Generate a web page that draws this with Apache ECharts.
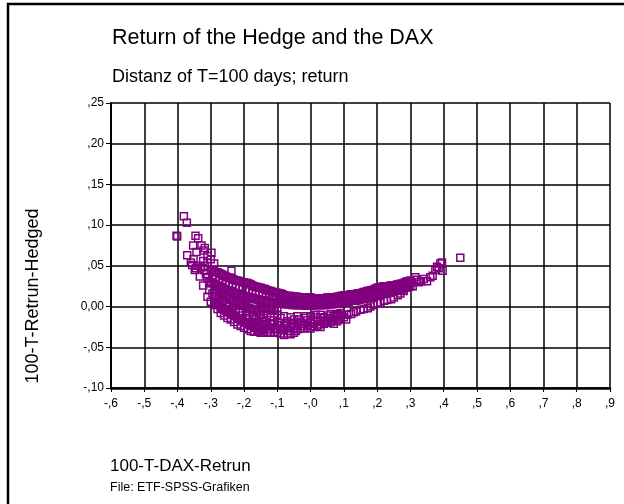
<!DOCTYPE html>
<html>
<head>
<meta charset="utf-8">
<script src="https://cdn.jsdelivr.net/npm/echarts@6/dist/echarts.min.js"></script>
<style>
html,body{margin:0;padding:0;background:#fff;}
#chart{width:624px;height:504px;}
</style>
</head>
<body>
<div id="chart"></div>
<script>
// ---- data ----
const xTickLabels = ['-,6','-,5','-,4','-,3','-,2','-,1','-,0',',1',',2',',3',',4',',5',',6',',7',',8',',9'];
const yTickLabels = ['-,10','-,05','0,00',',05',',10',',15',',20',',25'];

// isolated points upper left
const leftCluster = [
  [-0.381,0.111],[-0.372,0.103],[-0.403,0.087],[-0.401,0.086],[-0.346,0.087],[-0.338,0.084],
  [-0.353,0.075],[-0.328,0.075],[-0.318,0.072],[-0.322,0.069],[-0.343,0.067],[-0.371,0.063],
  [-0.298,0.066],[-0.360,0.054],[-0.323,0.056],[-0.310,0.054],[-0.348,0.045],[-0.333,0.037],
  [-0.323,0.026],[-0.340,0.050],[-0.330,0.048],[-0.320,0.045],[-0.315,0.040],[-0.310,0.035],
  [-0.305,0.030],[-0.300,0.058],[-0.310,0.062],[-0.290,0.053],[-0.352,0.058],[-0.356,0.051],
  [-0.345,0.047],[-0.318,0.050],[-0.238,0.044]
];
// upper dense band: top edge
const bandTop = [
  [-0.30,0.045],[-0.29,0.043],[-0.28,0.042],[-0.27,0.040],[-0.26,0.038],[-0.25,0.036],[-0.24,0.035],
  [-0.23,0.033],[-0.22,0.032],[-0.21,0.031],[-0.20,0.030],[-0.19,0.029],[-0.18,0.027],[-0.17,0.025],
  [-0.16,0.024],[-0.15,0.023],[-0.14,0.022],[-0.13,0.020],[-0.12,0.019],[-0.11,0.018],[-0.10,0.017],
  [-0.09,0.016],[-0.08,0.014],[-0.07,0.013],[-0.06,0.013],[-0.05,0.012],[-0.04,0.012],[-0.03,0.011],
  [-0.02,0.011],[-0.01,0.011],[0.00,0.011],[0.01,0.010],[0.02,0.010],[0.03,0.010],[0.04,0.010],
  [0.05,0.011],[0.06,0.011],[0.07,0.011],[0.08,0.012],[0.09,0.013],[0.10,0.014],[0.11,0.014],
  [0.12,0.015],[0.13,0.015],[0.14,0.016],[0.15,0.016],[0.16,0.018],[0.17,0.019],[0.18,0.020],
  [0.19,0.021],[0.20,0.023],[0.21,0.024],[0.22,0.025],[0.23,0.025],[0.24,0.026],[0.25,0.026],
  [0.26,0.027],[0.27,0.028],[0.28,0.029],[0.29,0.031],[0.30,0.032]
];
const bandTop2 = [
  [-0.295,0.044],[-0.285,0.042],[-0.275,0.041],[-0.265,0.039],[-0.255,0.037],[-0.245,0.035],
  [-0.235,0.034],[-0.225,0.032],[-0.215,0.031],[-0.205,0.030],[-0.195,0.029],[-0.185,0.028],
  [-0.175,0.026],[-0.165,0.024],[-0.155,0.023],[-0.145,0.022],[-0.135,0.021],[-0.125,0.019],
  [-0.115,0.018],[-0.105,0.017],[-0.095,0.016],[-0.085,0.015],[-0.075,0.013],[-0.065,0.013],
  [-0.055,0.012],[-0.045,0.012],[-0.035,0.011],[-0.025,0.011],[-0.015,0.011],[-0.005,0.011],
  [0.005,0.010],[0.015,0.010],[0.025,0.010],[0.035,0.010],[0.045,0.010],[0.055,0.011],
  [0.065,0.011],[0.075,0.011],[0.085,0.012],[0.095,0.013],[0.105,0.014],[0.115,0.014],
  [0.125,0.015],[0.135,0.015],[0.145,0.016],[0.155,0.017],[0.165,0.018],[0.175,0.019],
  [0.185,0.020],[0.195,0.022],[0.205,0.023],[0.215,0.024],[0.225,0.025],[0.235,0.025],
  [0.245,0.026],[0.255,0.026],[0.265,0.027],[0.275,0.028],[0.285,0.030],[0.295,0.031]
];
// upper dense band: middle
const bandMid = [
  [-0.295,0.036],[-0.285,0.035],[-0.275,0.033],[-0.265,0.031],[-0.255,0.029],[-0.245,0.027],
  [-0.235,0.026],[-0.225,0.024],[-0.215,0.023],[-0.205,0.022],[-0.195,0.021],[-0.185,0.020],
  [-0.175,0.018],[-0.165,0.017],[-0.155,0.016],[-0.145,0.015],[-0.135,0.014],[-0.125,0.013],
  [-0.115,0.012],[-0.105,0.011],[-0.095,0.010],[-0.085,0.009],[-0.075,0.008],[-0.065,0.008],
  [-0.055,0.007],[-0.045,0.007],[-0.035,0.006],[-0.025,0.006],[-0.015,0.006],[-0.005,0.006],
  [0.005,0.006],[0.015,0.006],[0.025,0.006],[0.035,0.006],[0.045,0.006],[0.055,0.007],
  [0.065,0.007],[0.075,0.008],[0.085,0.008],[0.095,0.009],[0.105,0.010],[0.115,0.010],
  [0.125,0.011],[0.135,0.012],[0.145,0.013],[0.155,0.014],[0.165,0.015],[0.175,0.016],
  [0.185,0.017],[0.195,0.018],[0.205,0.019],[0.215,0.020],[0.225,0.021],[0.235,0.022],
  [0.245,0.022],[0.255,0.023],[0.265,0.024],[0.275,0.025],[0.285,0.027],[0.295,0.028]
];
// upper dense band: bottom edge
const bandBottom = [
  [-0.30,0.030],[-0.29,0.028],[-0.28,0.026],[-0.27,0.024],[-0.26,0.022],[-0.25,0.020],[-0.24,0.019],
  [-0.23,0.017],[-0.22,0.016],[-0.21,0.014],[-0.20,0.013],[-0.19,0.012],[-0.18,0.011],[-0.17,0.010],
  [-0.16,0.009],[-0.15,0.008],[-0.14,0.007],[-0.13,0.007],[-0.12,0.006],[-0.11,0.005],[-0.10,0.005],
  [-0.09,0.004],[-0.08,0.004],[-0.07,0.003],[-0.06,0.003],[-0.05,0.002],[-0.04,0.002],[-0.03,0.002],
  [-0.02,0.002],[-0.01,0.001],[0.00,0.001],[0.01,0.002],[0.02,0.002],[0.03,0.002],[0.04,0.002],
  [0.05,0.003],[0.06,0.003],[0.07,0.004],[0.08,0.004],[0.09,0.005],[0.10,0.005],[0.11,0.006],
  [0.12,0.007],[0.13,0.007],[0.14,0.008],[0.15,0.009],[0.16,0.010],[0.17,0.011],[0.18,0.012],
  [0.19,0.013],[0.20,0.014],[0.21,0.015],[0.22,0.016],[0.23,0.017],[0.24,0.018],[0.25,0.019],
  [0.26,0.020],[0.27,0.021],[0.28,0.022],[0.29,0.024],[0.30,0.025]
];
const bandBottom2 = [
  [-0.295,0.029],[-0.285,0.027],[-0.275,0.025],[-0.265,0.023],[-0.255,0.021],[-0.245,0.019],
  [-0.235,0.018],[-0.225,0.016],[-0.215,0.015],[-0.205,0.013],[-0.195,0.012],[-0.185,0.011],
  [-0.175,0.010],[-0.165,0.009],[-0.155,0.008],[-0.145,0.007],[-0.135,0.007],[-0.125,0.006],
  [-0.115,0.005],[-0.105,0.005],[-0.095,0.004],[-0.085,0.004],[-0.075,0.003],[-0.065,0.003],
  [-0.055,0.002],[-0.045,0.002],[-0.035,0.002],[-0.025,0.002],[-0.015,0.001],[-0.005,0.001],
  [0.005,0.001],[0.015,0.002],[0.025,0.002],[0.035,0.002],[0.045,0.002],[0.055,0.003],
  [0.065,0.003],[0.075,0.004],[0.085,0.004],[0.095,0.005],[0.105,0.005],[0.115,0.006],
  [0.125,0.007],[0.135,0.007],[0.145,0.008],[0.155,0.009],[0.165,0.010],[0.175,0.011],
  [0.185,0.012],[0.195,0.013],[0.205,0.014],[0.215,0.015],[0.225,0.016],[0.235,0.017],
  [0.245,0.018],[0.255,0.019],[0.265,0.020],[0.275,0.021],[0.285,0.023],[0.295,0.024]
];
// thick blob on the left, below the band
const blobA = [
  [-0.28,0.018],[-0.27,0.016],[-0.26,0.014],[-0.25,0.011],[-0.24,0.009],[-0.23,0.007],[-0.22,0.005],
  [-0.21,0.003],[-0.20,0.001],[-0.19,-0.001],[-0.18,-0.003],[-0.17,-0.004],[-0.16,-0.003],
  [-0.15,-0.001],[-0.14,-0.002],[-0.13,-0.001],[-0.12,-0.003],[-0.11,-0.004],[-0.10,-0.002]
];
const blobA2 = [
  [-0.285,0.021],[-0.275,0.017],[-0.265,0.015],[-0.255,0.012],[-0.245,0.010],[-0.235,0.008],
  [-0.225,0.006],[-0.215,0.004],[-0.205,0.002],[-0.195,0.000],[-0.185,-0.002],[-0.175,-0.004],
  [-0.165,-0.005],[-0.155,-0.003],[-0.145,-0.002],[-0.135,-0.003],[-0.125,-0.002],[-0.115,-0.005]
];
const blobMid = [
  [-0.305,0.020],[-0.295,0.016],[-0.285,0.012],[-0.275,0.009],[-0.265,0.006],[-0.255,0.003],
  [-0.245,0.000],[-0.235,-0.003],[-0.225,-0.006],[-0.215,-0.008],[-0.205,-0.011],[-0.195,-0.014],
  [-0.185,-0.016],[-0.175,-0.019]
];
const blobB = [
  [-0.28,0.004],[-0.27,0.000],[-0.26,-0.003],[-0.25,-0.006],[-0.24,-0.008],[-0.23,-0.011],
  [-0.22,-0.014],[-0.21,-0.016],[-0.20,-0.019],[-0.19,-0.021],[-0.18,-0.023],[-0.17,-0.026],
  [-0.16,-0.027],[-0.15,-0.028],[-0.14,-0.027]
];
const blobB2 = [
  [-0.285,0.006],[-0.275,0.002],[-0.265,-0.002],[-0.255,-0.005],[-0.245,-0.007],[-0.235,-0.010],
  [-0.225,-0.012],[-0.215,-0.015],[-0.205,-0.018],[-0.195,-0.020],[-0.185,-0.022],[-0.175,-0.024],
  [-0.165,-0.025],[-0.155,-0.030],[-0.145,-0.029]
];
// lower scattered band
const lowerArc = [
  [-0.31,0.012],[-0.30,0.006],[-0.29,0.002],[-0.28,-0.003],[-0.27,-0.008],[-0.26,-0.011],
  [-0.25,-0.014],[-0.24,-0.016],[-0.23,-0.019],[-0.22,-0.022],[-0.21,-0.024],[-0.20,-0.026],
  [-0.19,-0.028],[-0.18,-0.030],[-0.17,-0.031],[-0.16,-0.031],[-0.15,-0.032],[-0.14,-0.032],
  [-0.13,-0.031],[-0.12,-0.032],[-0.11,-0.031],[-0.10,-0.032],[-0.09,-0.033],[-0.08,-0.035],
  [-0.07,-0.033],[-0.06,-0.034],[-0.05,-0.032],[-0.04,-0.028],[-0.03,-0.027],[-0.02,-0.027],
  [-0.01,-0.026],[0.00,-0.027],[0.01,-0.025],[0.02,-0.024],[0.03,-0.025],[0.04,-0.021],
  [0.05,-0.020],[0.06,-0.019],[0.07,-0.021],[0.08,-0.018],[0.09,-0.016]
];
const lowerMidA = [
  [-0.17,-0.012],[-0.16,-0.006],[-0.15,-0.010],[-0.14,-0.014],[-0.13,-0.008],[-0.12,-0.012],
  [-0.11,-0.017],[-0.10,-0.010],[-0.09,-0.014],[-0.08,-0.012],[-0.07,-0.018],[-0.06,-0.013],
  [-0.05,-0.016],[-0.04,-0.012],[-0.03,-0.019],[-0.02,-0.014],[-0.01,-0.017],[0.00,-0.012],
  [0.01,-0.016],[0.02,-0.013],[0.03,-0.010],[0.037,-0.013],[0.04,-0.014],[0.05,-0.011],
  [0.06,-0.009],[0.07,-0.012],[0.08,-0.009],[0.09,-0.008]
];
const lowerMidB = [
  [-0.17,-0.022],[-0.16,-0.019],[-0.15,-0.024],[-0.14,-0.021],[-0.13,-0.025],[-0.12,-0.022],
  [-0.11,-0.026],[-0.10,-0.023],[-0.09,-0.027],[-0.08,-0.024],[-0.07,-0.027],[-0.06,-0.024],
  [-0.05,-0.026],[-0.04,-0.022],[-0.03,-0.024],[-0.02,-0.021],[-0.01,-0.023],[0.00,-0.020],
  [0.01,-0.021],[0.02,-0.018],[0.03,-0.019],[0.04,-0.017],[0.05,-0.016],[0.06,-0.014],
  [0.07,-0.016],[0.08,-0.013],[0.09,-0.012]
];
const lowerExtra = [
  [-0.165,-0.016],[-0.155,-0.014],[-0.145,-0.018],[-0.135,-0.019],[-0.125,-0.028],[-0.115,-0.021],
  [-0.105,-0.028],[-0.095,-0.020],[-0.085,-0.029],[-0.075,-0.022],[-0.065,-0.030],[-0.055,-0.020],
  [-0.045,-0.030],[-0.035,-0.016],[-0.025,-0.024],[-0.015,-0.012],[0.005,-0.024],[0.015,-0.010],
  [0.025,-0.022],[0.045,-0.018],[0.065,-0.017],[0.075,-0.010],[0.085,-0.015],[0.095,-0.010]
];
// right part of the lower strand
const rightLower = [
  [0.10,-0.013],[0.107,-0.016],[0.11,-0.010],[0.122,-0.009],[0.13,-0.007],[0.137,-0.006],
  [0.15,-0.004],[0.16,-0.003],[0.172,-0.002],[0.18,0.000],[0.19,0.002],[0.202,0.004],
  [0.21,0.005],[0.22,0.007],[0.23,0.008],[0.242,0.009],[0.25,0.011],[0.262,0.014],
  [0.27,0.016],[0.28,0.019]
];
// right tail
const rightTail = [
  [0.305,0.030],[0.307,0.025],[0.315,0.036],[0.32,0.033],[0.325,0.030],[0.332,0.031],
  [0.34,0.034],[0.35,0.031],[0.36,0.036],[0.367,0.038],[0.375,0.045],[0.38,0.049],
  [0.385,0.047],[0.39,0.053],[0.395,0.054],[0.397,0.044],[0.45,0.060]
];

const xMin = -0.6, xMax = 0.9, xStep = 0.1;
const yMin = -0.10, yMax = 0.25, yStep = 0.05;

const allPoints = [].concat(leftCluster, bandTop, bandTop2, bandMid, bandBottom, bandBottom2,
  blobA, blobA2, blobMid, blobB, blobB2, lowerArc, lowerMidA, lowerMidB, lowerExtra,
  rightLower, rightTail);

const chart = echarts.init(document.getElementById('chart'), null, {renderer:'canvas'});
const FONT = 'Liberation Sans, Arial, sans-serif';
chart.setOption({
  backgroundColor: '#fff',
  animation: false,
  title: [
    {text: 'Return of the Hedge and the DAX', left: 112, top: 27, padding: 0,
     textStyle: {fontFamily: FONT, fontSize: 21.5, fontWeight: 'normal', color: '#000'}},
    {text: 'Distanz of T=100 days; return', left: 112, top: 68, padding: 0,
     textStyle: {fontFamily: FONT, fontSize: 18, fontWeight: 'normal', color: '#000'}},
    {text: '100-T-DAX-Retrun', left: 110, top: 458, padding: 0,
     textStyle: {fontFamily: FONT, fontSize: 17, fontWeight: 'normal', color: '#000'}},
    {text: 'File: ETF-SPSS-Grafiken', left: 110, top: 481, padding: 0,
     textStyle: {fontFamily: FONT, fontSize: 12.5, fontWeight: 'normal', color: '#000'}}
  ],
  graphic: [
    {type: 'rect', z: 100, silent: true,
     shape: {x: 8, y: 4, width: 700, height: 600},
     style: {fill: 'none', stroke: '#000', lineWidth: 2.5}},
    {type: 'text', z: 100, x: 33, y: 296, rotation: Math.PI / 2,
     style: {text: '100-T-Retrun-Hedged', font: '18px ' + FONT, fill: '#000',
             align: 'center', verticalAlign: 'middle'}}
  ],
  grid: {left: 111, top: 103, right: 14, bottom: 116, containLabel: false},
  xAxis: {
    type: 'value', min: xMin, max: xMax, interval: xStep,
    axisLine: {show: true, onZero: false, lineStyle: {color: '#000', width: 2.5}},
    axisTick: {show: true, inside: false, length: 4, lineStyle: {color: '#000', width: 1}},
    splitLine: {show: true, lineStyle: {color: '#000', width: 1.5}},
    axisLabel: {color: '#000', fontFamily: FONT, fontSize: 12, margin: 10,
      formatter: function (v) { return xTickLabels[Math.round((v - xMin) / xStep)]; }}
  },
  yAxis: {
    type: 'value', min: yMin, max: yMax, interval: yStep,
    axisLine: {show: true, onZero: false, lineStyle: {color: '#000', width: 2}},
    axisTick: {show: true, inside: false, length: 5, lineStyle: {color: '#000', width: 1}},
    splitLine: {show: true, lineStyle: {color: '#000', width: 1.5}},
    axisLabel: {color: '#000', fontFamily: FONT, fontSize: 12, margin: 7,
      formatter: function (v) { return yTickLabels[Math.round((v - yMin) / yStep)]; }}
  },
  series: [{
    type: 'scatter',
    data: allPoints,
    symbol: 'rect',
    symbolSize: 7,
    itemStyle: {color: 'rgba(0,0,0,0)', borderColor: '#800080', borderWidth: 1.5, opacity: 1},
    emphasis: {disabled: true}
  }]
});
</script>
</body>
</html>
